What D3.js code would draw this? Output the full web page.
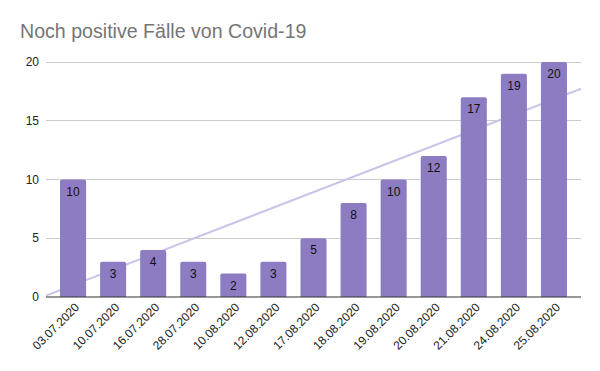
<!DOCTYPE html>
<html>
<head>
<meta charset="utf-8">
<script src="https://cdn.jsdelivr.net/npm/d3@7"></script>
<style>
  body { margin: 0; background: #fff; }
  text { font-family: Arial, "Liberation Sans", sans-serif; }
</style>
</head>
<body>
<svg id="chart" width="600" height="371"></svg>
<script>
const dates = ['03.07.2020', '10.07.2020', '16.07.2020', '28.07.2020', '10.08.2020', '12.08.2020',
  '17.08.2020', '18.08.2020', '19.08.2020', '20.08.2020', '21.08.2020', '24.08.2020', '25.08.2020'];
const cases = [10, 3, 4, 3, 2, 3, 5, 8, 10, 12, 17, 19, 20];
const yTicks = [0, 5, 10, 15, 20];

const W = 600, H = 371;
const plotL = 46, plotR = 581, plotT = 62, plotB = 297;

const $svg = d3.select('#chart');
$svg.append('rect').attr('width', W).attr('height', H).attr('fill', '#fff');

const x = d3.scaleBand().domain(dates).range([53, 574]).paddingInner(0.35).paddingOuter(0.175);
const y = d3.scaleLinear().domain([0, 20]).range([plotB, plotT]);

// title
$svg.append('text')
  .attr('x', 20).attr('y', 38)
  .attr('font-size', 19.6)
  .attr('fill', '#757575')
  .text('Noch positive Fälle von Covid-19');

// grid
$svg.append('g').selectAll('line')
  .data(yTicks.filter(d => d > 0))
  .enter().append('line')
  .attr('x1', plotL).attr('x2', plotR)
  .attr('y1', d => y(d)).attr('y2', d => y(d))
  .attr('stroke', '#cccccc').attr('stroke-width', 1)
  .attr('shape-rendering', 'crispEdges');

$svg.append('g').selectAll('text')
  .data(yTicks)
  .enter().append('text')
  .attr('x', 39).attr('y', d => y(d) + 4)
  .attr('text-anchor', 'end')
  .attr('font-size', 12)
  .attr('fill', '#222')
  .text(d => d);

// linear trendline over bar index (sits behind the bars)
const mx = d3.mean(cases, (d, i) => i), my = d3.mean(cases);
const sxy = d3.sum(cases, (d, i) => (i - mx) * (d - my));
const sxx = d3.sum(cases, (d, i) => (i - mx) * (i - mx));
const slope = sxy / sxx, icpt = my - slope * mx;
const bw = x.bandwidth(), step = x.step();
const idx = px => (px - (x(dates[0]) + bw / 2)) / step;
$svg.append('line')
  .attr('x1', plotL).attr('y1', y(icpt + slope * idx(plotL)))
  .attr('x2', plotR).attr('y2', y(icpt + slope * idx(plotR)))
  .attr('stroke', '#cbc3e7').attr('stroke-width', 2);

// bars, top corners slightly rounded
const r = 2;
$svg.append('g').selectAll('path')
  .data(cases)
  .enter().append('path')
  .attr('d', (d, i) => {
    const x0 = x(dates[i]), y0 = y(d), y1 = y(0);
    return `M${x0},${y1}V${y0 + r}Q${x0},${y0} ${x0 + r},${y0}H${x0 + bw - r}Q${x0 + bw},${y0} ${x0 + bw},${y0 + r}V${y1}Z`;
  })
  .attr('fill', '#8e7cc3');

// value labels
$svg.append('g').selectAll('text')
  .data(cases)
  .enter().append('text')
  .attr('x', (d, i) => x(dates[i]) + bw / 2)
  .attr('y', d => y(d) + 16)
  .attr('text-anchor', 'middle')
  .attr('font-size', 12)
  .attr('fill', '#111')
  .text(d => d);

// baseline
$svg.append('line')
  .attr('x1', plotL).attr('x2', plotR)
  .attr('y1', plotB).attr('y2', plotB)
  .attr('stroke', '#333').attr('stroke-width', 1.2);

// x labels
$svg.append('g').selectAll('text')
  .data(dates)
  .enter().append('text')
  .attr('transform', d => `translate(${x(d) + bw / 2 + 7},${plotB + 11}) rotate(-45)`)
  .attr('text-anchor', 'end')
  .attr('font-size', 12)
  .attr('fill', '#222')
  .text(d => d);
</script>
</body>
</html>
